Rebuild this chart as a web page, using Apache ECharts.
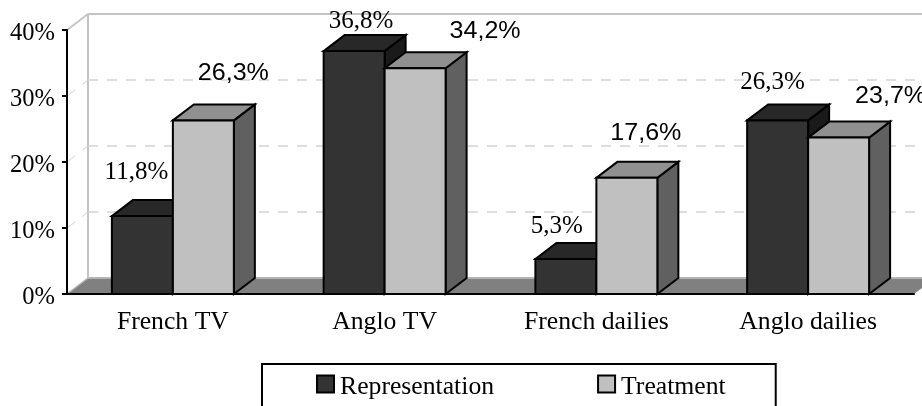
<!DOCTYPE html>
<html>

<head>
    <meta charset="utf-8">
    <title>Representation and treatment</title>
    <script src="https://cdn.jsdelivr.net/npm/echarts@6/dist/echarts.min.js"></script>
    <style>
        html, body { margin: 0; padding: 0; background: #fff; overflow: hidden; }
    </style>
</head>

<body>
    <div id="main" style="width: 922px;height:406px;"></div>

    <script type="text/javascript">
        var categories = ['French TV', 'Anglo TV', 'French dailies', 'Anglo dailies'];
        var representation = [11.8, 36.8, 5.3, 26.3];
        var treatment = [26.3, 34.2, 17.6, 23.7];
        var representationText = ['11,8%', '36,8%', '5,3%', '26,3%'];
        var treatmentText = ['26,3%', '34,2%', '17,6%', '23,7%'];
        var yTicks = [0, 10, 20, 30, 40];

        // hand placed labels in the original, offset from the top centre of the bar front
        var representationNudge = [[-6, -44], [7, -30], [-9, -33], [-5, -38]];
        var treatmentNudge = [[30, -47], [70, -37], [19, -44], [52, -41]];

        var serif = '"Liberation Serif", "Times New Roman", serif';
        var sans = '"Liberation Sans", Arial, sans-serif';
        var depthX = 21;
        var depthY = 16;
        var barShare = 0.288;

        function poly(points, fill, stroke, width) {
            return {
                type: 'polygon',
                shape: { points: points },
                style: { fill: fill, stroke: stroke, lineWidth: width, lineJoin: 'miter' }
            };
        }

        function line(x1, y1, x2, y2, color, width, dash) {
            return {
                type: 'line',
                shape: { x1: x1, y1: y1, x2: x2, y2: y2 },
                style: { stroke: color, lineWidth: width, lineDash: dash || null }
            };
        }

        // back wall, floor and the gridlines that sit on them
        function renderWall(params, api) {
            var sys = params.coordSys;
            var y = api.coord([0, api.value(1)])[1];
            var left = sys.x;
            var right = sys.x + sys.width;
            var v = api.value(1);
            var kids = [];
            if (v === 0) {
                kids.push(poly([[left, y], [left + depthX, y - depthY], [right + depthX, y - depthY], [right, y]], '#808080', null, 0));
                kids.push(line(left + depthX, y - depthY, right + depthX, y - depthY, '#b4b4b4', 2));
                kids.push(line(left, y, left + depthX, y - depthY, '#b4b4b4', 1.5));
                kids.push(line(left + depthX, sys.y - depthY, left + depthX, y - depthY, '#c4c4c4', 2));
            } else if (v === 40) {
                kids.push(line(left + depthX, y - depthY, right + depthX, y - depthY, '#c4c4c4', 2));
                kids.push(line(left, y, left + depthX, y - depthY, '#c4c4c4', 2));
            } else {
                kids.push(line(left + depthX, y - depthY, right + depthX, y - depthY, '#d4d4d4', 1.5, [10, 9]));
                kids.push(line(left, y, left + depthX, y - depthY, '#d4d4d4', 1, [10, 9]));
            }
            return { type: 'group', children: kids };
        }

        function barRenderer(side, front, top, flank, texts, nudges, font) {
            return function (params, api) {
                var i = api.value(0);
                var p = api.coord([i, api.value(1)]);
                var base = api.coord([i, 0])[1];
                var w = api.size([1, 0])[0] * barShare;
                var x0 = side < 0 ? p[0] - w : p[0];
                var x1 = x0 + w;
                var y = p[1];
                return {
                    type: 'group',
                    children: [
                        poly([[x1, y], [x1 + depthX, y - depthY], [x1 + depthX, base - depthY], [x1, base]], flank, '#000', 2),
                        poly([[x0, y], [x0 + depthX, y - depthY], [x1 + depthX, y - depthY], [x1, y]], top, '#000', 2),
                        poly([[x0, y], [x1, y], [x1, base], [x0, base]], front, '#000', 2),
                        {
                            type: 'text',
                            z2: 10,
                            x: (x0 + x1) / 2 + nudges[i][0],
                            y: y + nudges[i][1],
                            // the sans labels are stretched a little wider in the original
                            scaleX: font === serif ? 1 : 1.09,
                            style: {
                                text: texts[i],
                                x: 0,
                                y: 0,
                                align: 'center',
                                verticalAlign: 'middle',
                                fontFamily: font,
                                fontSize: font === serif ? 25 : 23,
                                fill: '#000'
                            }
                        }
                    ]
                };
            };
        }

        function rows(values) {
            return values.map(function (v, i) { return [i, v]; });
        }

        var dom = document.getElementById("main");
        var myChart = echarts.init(dom);

        var option = {
            animation: false,
            backgroundColor: '#fff',
            textStyle: { fontFamily: serif },
            grid: { left: 67, right: 8, top: 30, bottom: 112 },
            legend: {
                left: 262,
                top: 364,
                orient: 'horizontal',
                data: ['Representation', 'Treatment'],
                icon: 'rect',
                itemWidth: 17,
                itemHeight: 17,
                itemGap: 103,
                padding: [10, 50, 40, 54],
                borderColor: '#000',
                borderWidth: 2,
                formatter: '{a|{name}}',
                textStyle: {
                    rich: { a: { fontFamily: serif, fontSize: 25.7, color: '#000', padding: [6, 0, 0, 1] } }
                }
            },
            xAxis: {
                type: 'category',
                data: categories,
                axisLine: { lineStyle: { color: '#000', width: 2 } },
                axisTick: { length: 5, lineStyle: { color: '#000', width: 2 } },
                axisLabel: { fontFamily: serif, fontSize: 25.7, color: '#000', margin: 15 }
            },
            yAxis: {
                type: 'value',
                min: 0,
                max: 40,
                interval: 10,
                splitLine: { show: false },
                axisLine: { show: true, lineStyle: { color: '#000', width: 2 } },
                axisTick: { show: true, length: 5, lineStyle: { color: '#000', width: 2 } },
                axisLabel: {
                    margin: 12,
                    formatter: '{a|{value}%}',
                    rich: { a: { fontFamily: serif, fontSize: 24.5, color: '#000', padding: [8, 0, 0, 0] } }
                }
            },
            series: [{
                type: 'custom',
                z: -1,
                silent: true,
                renderItem: renderWall,
                encode: { x: 0, y: 1 },
                data: yTicks.map(function (v) { return [0, v]; })
            }, {
                type: 'custom',
                name: 'Representation',
                z: 3,
                renderItem: barRenderer(-1, '#333333', '#282828', '#1a1a1a', representationText, representationNudge, serif),
                itemStyle: { color: '#333333', borderColor: '#000', borderWidth: 2 },
                encode: { x: 0, y: 1 },
                data: rows(representation)
            }, {
                type: 'custom',
                name: 'Treatment',
                z: 4,
                renderItem: barRenderer(1, '#c0c0c0', '#909090', '#606060', treatmentText, treatmentNudge, sans),
                itemStyle: { color: '#c0c0c0', borderColor: '#000', borderWidth: 2 },
                encode: { x: 0, y: 1 },
                data: rows(treatment)
            }]
        };

        myChart.setOption(option, true);
    </script>
</body>

</html>
